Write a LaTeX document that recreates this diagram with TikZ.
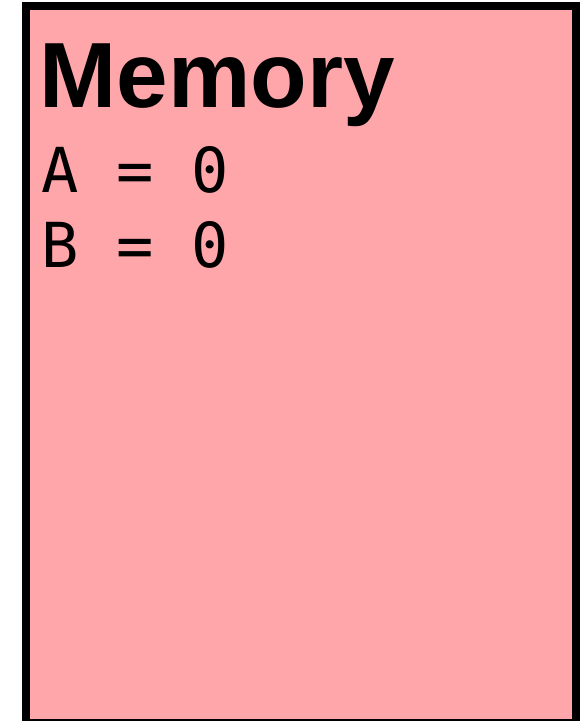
\documentclass[tikz,border=0pt]{standalone}
\usepackage{fontspec}
\setmainfont{Liberation Sans}
\setmonofont[RawFeature=+zero]{DejaVu Sans Mono}
\usetikzlibrary{positioning}
\definecolor{mempink}{RGB}{255,166,170}
\definecolor{memdark}{RGB}{0,0,0}
\tikzset{
  membox/.style={rectangle, draw=memdark, fill=mempink, line width=6pt,
    inner sep=0pt, outer sep=0pt, minimum width=412.9pt, minimum height=537.75pt},
  memtitle/.style={inner sep=0pt, anchor=base west,
    font=\bfseries\fontsize{69.5}{80}\selectfont},
  memline/.style={inner sep=0pt, anchor=base west,
    font=\ttfamily\fontsize{46.5}{56}\selectfont}
}
\begin{document}
\begin{tikzpicture}[x=0.75pt, y=-0.75pt]
  \useasboundingbox (0,0) rectangle (588,721);
  \node[membox, anchor=north west] (mem) at (25.5,6) {};

  \node[memtitle] (title) at (39.5,107) {Memory};
  \node[memline] (linea) at (41.5,192) {A = 0};
  \node[memline] (lineb) at (41.5,267.5) {B = 0};
\end{tikzpicture}
\end{document}
